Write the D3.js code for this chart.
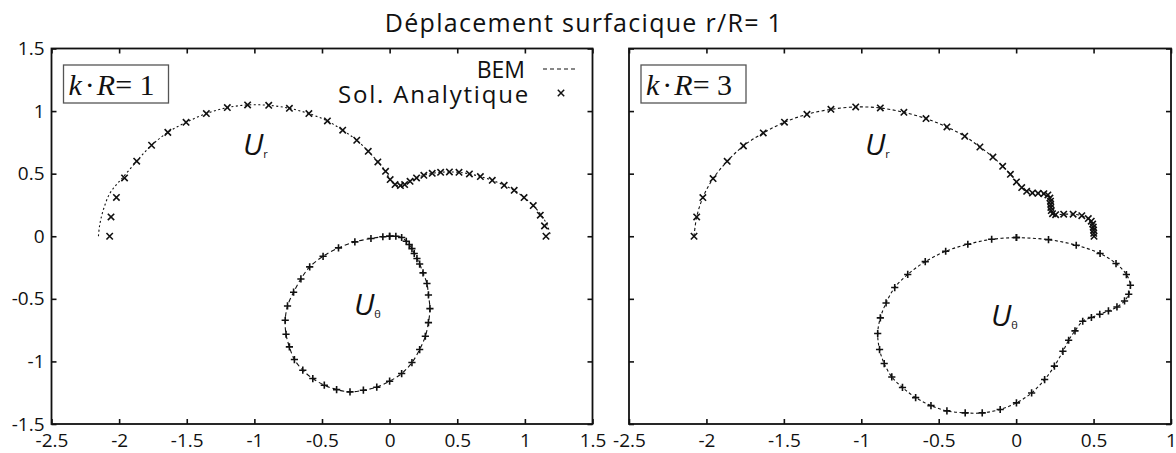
<!DOCTYPE html>
<html>
<head>
<meta charset="utf-8">
<script src="https://cdn.jsdelivr.net/npm/d3@7"></script>
<style>
  html, body { margin: 0; padding: 0; background: #fff; }
  svg { display: block; }
  text { font-family: "Open Sans", "Noto Sans", sans-serif; fill: #111; }
</style>
</head>
<body>
<svg id="chart" width="1176" height="453"></svg>
<script>
// ---- data -------------------------------------------------------------
const titleText = "Déplacement surfacique r/R= 1";
const legendLabels = ["BEM", "Sol. Analytique"];
const panelLabels = ["1", "3"];           // k·R values

const xTicksK1 = [-2.5, -2, -1.5, -1, -0.5, 0, 0.5, 1, 1.5];
const xTicksK3 = [-2.5, -2, -1.5, -1, -0.5, 0, 0.5, 1];
const yTicks = [-1.5, -1, -0.5, 0, 0.5, 1, 1.5];

// k·R = 1, radial displacement (analytic samples)
const k1UrAna = [[-2.07,0.0],[-2.06,0.154],[-2.02,0.31],[-1.96,0.466],[-1.87,0.60],[-1.76,0.727],
  [-1.64,0.83],[-1.505,0.91],[-1.355,0.98],[-1.20,1.028],[-1.05,1.049],[-0.894,1.046],[-0.741,1.022],
  [-0.597,0.98],[-0.46,0.921],[-0.347,0.847],[-0.243,0.767],[-0.158,0.679],[-0.087,0.594],[-0.03,0.519],
  [0.004,0.453],[0.04,0.413],[0.08,0.405],[0.111,0.413],[0.151,0.439],[0.199,0.466],[0.253,0.487],
  [0.315,0.503],[0.377,0.511],[0.442,0.514],[0.513,0.511],[0.59,0.498],[0.671,0.477],[0.759,0.447],
  [0.847,0.407],[0.921,0.367],[0.994,0.309],[1.062,0.245],[1.114,0.168],[1.145,0.083],[1.156,0.0]];
// k·R = 1, radial displacement (BEM)
const k1UrBem = [[-2.153,0.0],[-2.145,0.08],[-2.13,0.16],[-2.105,0.25],[-2.075,0.33],[-2.03,0.40],
  [-1.975,0.466],[-1.87,0.60],[-1.76,0.727],[-1.64,0.83],[-1.505,0.91],[-1.355,0.98],[-1.20,1.028],
  [-1.05,1.049],[-0.894,1.046],[-0.741,1.022],[-0.597,0.98],[-0.46,0.921],[-0.347,0.847],[-0.243,0.767],
  [-0.158,0.679],[-0.087,0.594],[-0.03,0.519],[0.004,0.453],[0.04,0.413],[0.08,0.405],[0.111,0.413],
  [0.151,0.439],[0.199,0.466],[0.253,0.487],[0.315,0.503],[0.377,0.511],[0.442,0.514],[0.513,0.511],
  [0.59,0.498],[0.671,0.477],[0.759,0.447],[0.847,0.407],[0.921,0.367],[0.994,0.309],[1.062,0.245],
  [1.12,0.17],[1.165,0.09],[1.19,0.0]];
// k·R = 1, tangential displacement
const k1Ut = [[0.0,0.0],[0.046,0.0],[0.089,-0.01],[0.123,-0.04],[0.145,-0.066],[0.165,-0.099],
  [0.182,-0.138],[0.202,-0.178],[0.222,-0.222],[0.247,-0.293],[0.276,-0.378],[0.287,-0.469],
  [0.298,-0.578],[0.287,-0.69],[0.264,-0.799],[0.222,-0.905],[0.165,-1.009],[0.089,-1.097],
  [0.0,-1.158],[-0.095,-1.206],[-0.194,-1.23],[-0.293,-1.243],[-0.392,-1.225],[-0.483,-1.19],
  [-0.568,-1.137],[-0.642,-1.07],[-0.704,-0.985],[-0.741,-0.884],[-0.766,-0.783],[-0.772,-0.671],
  [-0.755,-0.557],[-0.71,-0.447],[-0.656,-0.341],[-0.591,-0.245],[-0.492,-0.16],[-0.378,-0.093],
  [-0.257,-0.045],[-0.138,-0.018],[-0.05,-0.004],[0.0,0.0]];

// k·R = 3, radial displacement
const k3Ur = [[-2.08,0.0],[-2.063,0.154],[-2.023,0.309],[-1.957,0.461],[-1.866,0.599],[-1.761,0.722],
  [-1.633,0.825],[-1.496,0.911],[-1.351,0.974],[-1.196,1.014],[-1.036,1.033],[-0.877,1.025],
  [-0.725,0.99],[-0.582,0.94],[-0.447,0.873],[-0.332,0.799],[-0.234,0.713],[-0.15,0.633],
  [-0.087,0.559],[-0.037,0.495],[0.002,0.434],[0.036,0.389],[0.068,0.359],[0.105,0.346],
  [0.142,0.343],[0.179,0.34],[0.205,0.33],[0.218,0.305],[0.222,0.28],[0.223,0.255],[0.224,0.23],
  [0.227,0.205],[0.235,0.18],[0.255,0.172],[0.307,0.176],[0.368,0.176],[0.424,0.164],[0.466,0.141],
  [0.485,0.12],[0.494,0.097],[0.498,0.073],[0.5,0.049],[0.501,0.024],[0.503,0.0]];
// k·R = 3, tangential displacement
const k3Ut = [[0.002,-0.01],[0.209,-0.027],[0.388,-0.072],[0.542,-0.138],[0.645,-0.218],[0.712,-0.306],
  [0.738,-0.391],[0.727,-0.463],[0.7,-0.517],[0.651,-0.565],[0.596,-0.597],[0.54,-0.623],[0.486,-0.649],
  [0.43,-0.679],[0.38,-0.756],[0.339,-0.831],[0.302,-0.919],[0.247,-1.038],[0.184,-1.145],[0.1,-1.252],
  [0.002,-1.331],[-0.103,-1.384],[-0.219,-1.411],[-0.329,-1.411],[-0.447,-1.395],[-0.55,-1.353],
  [-0.649,-1.289],[-0.734,-1.208],[-0.803,-1.124],[-0.852,-1.017],[-0.882,-0.905],[-0.894,-0.777],
  [-0.877,-0.652],[-0.84,-0.533],[-0.784,-0.41],[-0.7,-0.305],[-0.587,-0.203],[-0.455,-0.12],
  [-0.312,-0.064],[-0.158,-0.024],[0.002,-0.01]];

// ---- layout -----------------------------------------------------------
const svg = d3.select("#chart");
const plotTop = 48.5, plotBottom = 424;

const panels = [
  { left: 51.5, right: 592.5, xTicks: xTicksK1, kr: panelLabels[0], showY: true, legend: true,
    urBem: k1UrBem, urAna: k1UrAna, ut: k1Ut, urDash: "2,2.5", utDash: "4.5,3",
    urLabel: [243, 155], utLabel: [354, 315] },
  { left: 629, right: 1171, xTicks: xTicksK3, kr: panelLabels[1], showY: false, legend: false,
    urBem: k3Ur, urAna: k3Ur, ut: k3Ut, urDash: "3,2.5", utDash: "3,2.5",
    urLabel: [865, 155], utLabel: [991, 326] }
];

const y = d3.scaleLinear().domain([-1.5, 1.5]).range([plotBottom, plotTop]);
const fmt = d => String(d);

const crossPath = s => `M${-s},${-s}L${s},${s}M${-s},${s}L${s},${-s}`;
const plusPath = s => `M${-s},0L${s},0M0,${-s}L0,${s}`;

// title
svg.append("text")
  .attr("x", 584).attr("y", 32)
  .attr("text-anchor", "middle")
  .style("font-size", "25px")
  .style("letter-spacing", "1.3px")
  .text(titleText);

panels.forEach(p => {
  const x = d3.scaleLinear().domain([p.xTicks[0], p.xTicks[p.xTicks.length - 1]]).range([p.left, p.right]);
  const g = svg.append("g");

  // axes with inward ticks on all sides
  const axB = d3.axisBottom(x).tickValues(p.xTicks).tickFormat(fmt).tickSizeInner(-5).tickSizeOuter(0).tickPadding(10);
  const axT = d3.axisTop(x).tickValues(p.xTicks).tickFormat("").tickSizeInner(-5).tickSizeOuter(0);
  const axL = d3.axisLeft(y).tickValues(yTicks).tickFormat(p.showY ? fmt : "").tickSizeInner(-5).tickSizeOuter(0).tickPadding(7);
  const axR = d3.axisRight(y).tickValues(yTicks).tickFormat("").tickSizeInner(-5).tickSizeOuter(0);

  g.append("g").attr("transform", `translate(0,${plotBottom})`).call(axB);
  g.append("g").attr("transform", `translate(0,${plotTop})`).call(axT);
  g.append("g").attr("transform", `translate(${p.left},0)`).call(axL);
  g.append("g").attr("transform", `translate(${p.right},0)`).call(axR);

  g.selectAll(".domain").remove();
  g.selectAll(".tick line").attr("stroke", "#111").attr("stroke-width", 1.6);
  g.selectAll(".tick text").attr("fill", "#111").style("font-family", "'Open Sans', sans-serif").style("font-size", "19px");

  // frame
  g.append("rect")
    .attr("x", p.left).attr("y", plotTop)
    .attr("width", p.right - p.left).attr("height", plotBottom - plotTop)
    .attr("fill", "none").attr("stroke", "#111").attr("stroke-width", 1.8);

  const line = d3.line().x(d => x(d[0])).y(d => y(d[1])).curve(d3.curveCatmullRom);

  // BEM curves
  g.append("path").attr("d", line(p.urBem)).attr("fill", "none")
    .attr("stroke", "#111").attr("stroke-width", 1.1).attr("stroke-dasharray", p.urDash);
  g.append("path").attr("d", line(p.ut)).attr("fill", "none")
    .attr("stroke", "#111").attr("stroke-width", 1.1).attr("stroke-dasharray", p.utDash);

  // analytic markers
  g.selectAll(null).data(p.urAna).join("path")
    .attr("transform", d => `translate(${x(d[0])},${y(d[1])})`)
    .attr("d", crossPath(3.2)).attr("stroke", "#111").attr("stroke-width", 1.6).attr("fill", "none");
  g.selectAll(null).data(p.ut).join("path")
    .attr("transform", d => `translate(${x(d[0])},${y(d[1])})`)
    .attr("d", plusPath(3.6)).attr("stroke", "#111").attr("stroke-width", 1.6).attr("fill", "none");

  // k·R box
  const bx = p.left + 12, by = 65, bw = 105, bh = 38;
  g.append("rect").attr("x", bx).attr("y", by).attr("width", bw).attr("height", bh)
    .attr("fill", "#fff").attr("stroke", "#555").attr("stroke-width", 1.3);
  const kt = g.append("text").attr("x", bx + 5).attr("y", by + bh - 8)
    .style("font-family", "'Liberation Serif', 'Times New Roman', serif").style("font-size", "30px");
  kt.append("tspan").style("font-style", "italic").text("k");
  kt.append("tspan").attr("dx", 3).text("\u00b7");
  kt.append("tspan").attr("dx", 2).style("font-style", "italic").text("R");
  kt.append("tspan").text("= " + p.kr);

  // curve labels
  const ur = g.append("text").attr("x", p.urLabel[0]).attr("y", p.urLabel[1])
    .style("font-size", "30px").style("font-style", "italic");
  ur.append("tspan").text("U");
  ur.append("tspan").attr("dy", 3).style("font-size", "11px").style("font-style", "normal").text("r");
  const ut = g.append("text").attr("x", p.utLabel[0]).attr("y", p.utLabel[1])
    .style("font-size", "30px").style("font-style", "italic");
  ut.append("tspan").text("U");
  ut.append("tspan").attr("dy", 3).style("font-size", "11px").style("font-style", "normal").text("\u03b8");

  // legend
  if (p.legend) {
    g.append("text").attr("x", 525).attr("y", 78).attr("text-anchor", "end")
      .style("font-size", "23px").text(legendLabels[0]);
    g.append("line").attr("x1", 543).attr("x2", 577).attr("y1", 69).attr("y2", 69)
      .attr("stroke", "#111").attr("stroke-width", 1.2).attr("stroke-dasharray", "4,3");
    g.append("text").attr("x", 530).attr("y", 103).attr("text-anchor", "end")
      .style("font-size", "24px").style("letter-spacing", "1.8px").text(legendLabels[1]);
    g.append("path").attr("transform", "translate(561,93)")
      .attr("d", crossPath(3.2)).attr("stroke", "#111").attr("stroke-width", 1.5).attr("fill", "none");
  }
});
</script>
</body>
</html>
